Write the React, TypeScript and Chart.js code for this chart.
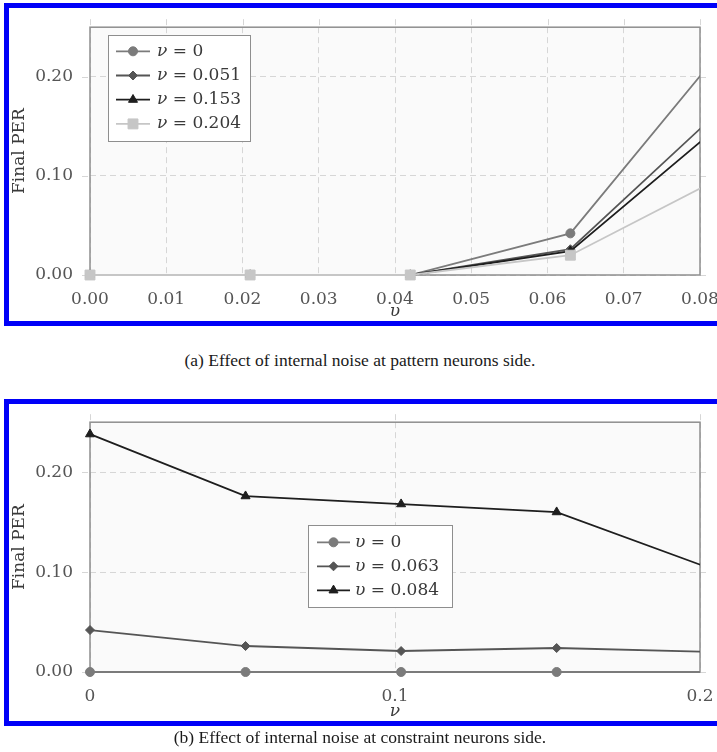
import React, { useEffect, useRef } from 'react';
import { Chart, registerables } from 'chart.js';
import { drawPoint } from 'chart.js/helpers';

Chart.register(...registerables);

// ---------- Data: chart (a) Final PER vs upsilon, one series per nu ----------
const upsilonA = [0, 0.021, 0.042, 0.063, 0.084];
const perNu0 = [0, 0, 0, 0.042, 0.238];
const perNu0051 = [0, 0, 0, 0.026, 0.176];
const perNu0153 = [0, 0, 0, 0.024, 0.16];
const perNu0204 = [0, 0, 0, 0.02, 0.103];
const labelsA = ['ν = 0', 'ν = 0.051', 'ν = 0.153', 'ν = 0.204'];

// ---------- Data: chart (b) Final PER vs nu, one series per upsilon ----------
const nuB = [0, 0.051, 0.102, 0.153, 0.204];
const perU0 = [0, 0, 0, 0, 0];
const perU0063 = [0.042, 0.026, 0.021, 0.024, 0.02];
const perU0084 = [0.238, 0.176, 0.168, 0.16, 0.103];
const labelsB = ['υ = 0', 'υ = 0.063', 'υ = 0.084'];

const yTickStep = 0.1;
const yMax = 0.25;

const SERIF = '"DejaVu Serif", serif';
const TICK_COLOR = '#555555';
const GRID_COLOR = '#d6d6d6';
const FRAME_COLOR = '#8e8e8e';

const pgfPlugin: any = {
  id: 'pgf',
  beforeDraw(chart: any) {
    const { ctx, chartArea: a } = chart;
    ctx.save();
    ctx.fillStyle = '#fafafa';
    ctx.fillRect(a.left, a.top, a.right - a.left, a.bottom - a.top);
    ctx.restore();
  },
  beforeDatasetsDraw(chart: any) {
    const { ctx, chartArea: a, scales } = chart;
    ctx.save();
    ctx.strokeStyle = GRID_COLOR;
    ctx.lineWidth = 1;
    ctx.setLineDash([6, 4]);
    const xs = scales.x;
    xs.ticks.forEach((t: any) => {
      const px = Math.round(xs.getPixelForValue(t.value)) + 0.5;
      ctx.beginPath();
      ctx.moveTo(px, a.top - 8);
      ctx.lineTo(px, a.top);
      ctx.stroke();
    });
    const ys = scales.y;
    ys.ticks.forEach((t: any) => {
      const py = Math.round(ys.getPixelForValue(t.value)) + 0.5;
      ctx.beginPath();
      ctx.moveTo(a.left - 8, py);
      ctx.lineTo(a.left, py);
      ctx.moveTo(a.right, py);
      ctx.lineTo(a.right + 9, py);
      ctx.stroke();
    });
    ctx.setLineDash([]);
    ctx.strokeStyle = FRAME_COLOR;
    ctx.lineWidth = 1.5;
    ctx.strokeRect(a.left, a.top, a.right - a.left, a.bottom - a.top);
    ctx.restore();
  },
  afterDraw(chart: any, _args: any, opts: any) {
    const L = opts && opts.legend;
    if (!L) return;
    const { ctx, chartArea: a } = chart;
    const x0 = Math.round(a.left + L.x);
    const y0 = Math.round(a.top + L.y);
    ctx.save();
    ctx.fillStyle = '#ffffff';
    ctx.fillRect(x0, y0, L.w, L.h);
    ctx.strokeStyle = FRAME_COLOR;
    ctx.lineWidth = 1;
    ctx.strokeRect(x0 + 0.5, y0 + 0.5, L.w, L.h);
    chart.data.datasets.forEach((ds: any, i: number) => {
      const cy = y0 + L.first + i * L.gap;
      ctx.strokeStyle = ds.borderColor;
      ctx.lineWidth = ds.borderWidth;
      ctx.beginPath();
      ctx.moveTo(x0 + L.l0, cy);
      ctx.lineTo(x0 + L.l1, cy);
      ctx.stroke();
      ctx.fillStyle = ds.pointBackgroundColor;
      ctx.strokeStyle = ds.pointBorderColor;
      ctx.lineWidth = 1;
      drawPoint(
        ctx,
        { pointStyle: ds.pointStyle, radius: ds.pointRadius, rotation: 0, borderWidth: 1 } as any,
        x0 + (L.l0 + L.l1) / 2,
        cy
      );
      const label: string = ds.label;
      const sym = label.slice(0, 1);
      const rest = label.slice(1);
      ctx.fillStyle = '#3a3a3a';
      ctx.textBaseline = 'middle';
      ctx.textAlign = 'left';
      ctx.font = `italic 17px ${SERIF}`;
      ctx.fillText(sym, x0 + L.tx, cy);
      const w = ctx.measureText(sym).width;
      ctx.font = `17px ${SERIF}`;
      ctx.fillText(rest, x0 + L.tx + w, cy);
    });
    ctx.restore();
  },
};

function series(
  label: string,
  xs: number[],
  ys: number[],
  color: string,
  pointStyle: string,
  radius: number,
  order: number
) {
  return {
    label,
    data: xs.map((x, i) => ({ x, y: ys[i] })),
    borderColor: color,
    backgroundColor: color,
    pointBackgroundColor: color,
    pointBorderColor: color,
    pointBorderWidth: 1,
    pointStyle,
    pointRadius: radius,
    borderWidth: 1.8,
    tension: 0,
    order,
    clip: { left: 12, top: 12, right: 0, bottom: 12 },
  };
}

function baseOptions(
  xMax: number,
  xStep: number,
  xFmt: (v: number) => string,
  xTitle: string,
  padTop: number,
  xHeight: number,
  legend: any
) {
  return {
    responsive: false,
    animation: false,
    devicePixelRatio: 1,
    layout: { padding: { left: 0, top: padTop, right: 40, bottom: 0 } },
    plugins: {
      legend: { display: false },
      tooltip: { enabled: false },
      pgf: { legend },
    },
    scales: {
      x: {
        type: 'linear',
        min: 0,
        max: xMax,
        ticks: {
          stepSize: xStep,
          includeBounds: false,
          autoSkip: false,
          maxRotation: 0,
          padding: 14,
          color: TICK_COLOR,
          font: { family: SERIF, size: 17 },
          callback: (v: any) => xFmt(Number(v)),
        },
        grid: { color: GRID_COLOR, lineWidth: 1, drawTicks: false },
        border: { display: false, dash: [6, 4] },
        title: {
          display: true,
          text: xTitle,
          color: '#3a3a3a',
          font: { family: SERIF, size: 17, style: 'italic' },
          padding: { top: 0, bottom: 8 },
        },
        afterFit: (s: any) => {
          s.height = xHeight;
        },
      },
      y: {
        type: 'linear',
        min: 0,
        max: yMax,
        ticks: {
          stepSize: yTickStep,
          includeBounds: false,
          padding: 17,
          color: TICK_COLOR,
          font: { family: SERIF, size: 17 },
          callback: (v: any) => Number(v).toFixed(2),
        },
        grid: { color: GRID_COLOR, lineWidth: 1, drawTicks: false },
        border: { display: false, dash: [6, 4] },
        title: {
          display: true,
          text: 'Final PER',
          color: '#3a3a3a',
          font: { family: SERIF, size: 17 },
          padding: { top: 9, bottom: 0 },
        },
        afterFit: (s: any) => {
          s.width = 90;
        },
      },
    },
  };
}

function configA(): any {
  return {
    type: 'line',
    data: {
      datasets: [
        series(labelsA[0], upsilonA, perNu0, '#7b7b7b', 'circle', 4.5, 3),
        series(labelsA[1], upsilonA, perNu0051, '#555555', 'rectRot', 4.5, 2),
        series(labelsA[2], upsilonA, perNu0153, '#1e1e1e', 'triangle', 5.2, 1),
        series(labelsA[3], upsilonA, perNu0204, '#c6c6c6', 'rect', 7, 0),
      ],
    },
    options: baseOptions(0.08, 0.01, (v) => v.toFixed(2), 'υ', 19, 55, {
      x: 18,
      y: 8,
      w: 142,
      h: 106,
      first: 16.3,
      gap: 24.2,
      l0: 8,
      l1: 42,
      tx: 49,
    }),
    plugins: [pgfPlugin],
  };
}

function configB(): any {
  return {
    type: 'line',
    data: {
      datasets: [
        series(labelsB[0], nuB, perU0, '#7b7b7b', 'circle', 4.5, 2),
        series(labelsB[1], nuB, perU0063, '#555555', 'rectRot', 4.5, 1),
        series(labelsB[2], nuB, perU0084, '#1e1e1e', 'triangle', 5.2, 0),
      ],
    },
    options: baseOptions(0.2, 0.1, (v) => (v === 0 ? '0' : v.toFixed(1)), 'ν', 20, 58, {
      x: 218,
      y: 103,
      w: 144,
      h: 82,
      first: 17.3,
      gap: 24,
      l0: 9,
      l1: 42,
      tx: 47,
    }),
    plugins: [pgfPlugin],
  };
}

function ChartCanvas({ make, top, width, height }: { make: () => any; top: number; width: number; height: number }) {
  const ref = useRef<HTMLCanvasElement>(null);
  useEffect(() => {
    const chart = new Chart(ref.current as HTMLCanvasElement, make());
    return () => chart.destroy();
  }, []);
  return (
    <canvas
      ref={ref}
      width={width}
      height={height}
      style={{ position: 'absolute', left: 0, top, width, height, display: 'block' }}
    />
  );
}

const captionStyle: React.CSSProperties = {
  position: 'absolute',
  left: 0,
  width: 720,
  textAlign: 'center',
  fontFamily: '"Liberation Serif", "Times New Roman", serif',
  fontSize: 17.5,
  color: '#1a1a1a',
  whiteSpace: 'nowrap',
};

export default function App() {
  return (
    <div
      style={{
        position: 'absolute',
        left: 0,
        top: 0,
        width: 717,
        height: 752,
        overflow: 'hidden',
        background: '#ffffff',
      }}
    >
      <div
        style={{
          position: 'absolute',
          left: 4,
          top: 3,
          width: 740,
          height: 323,
          boxSizing: 'border-box',
          border: '5px solid #0000f8',
        }}
      />
      <ChartCanvas make={configA} top={0} width={740} height={330} />
      <div style={{ ...captionStyle, top: 350 }}>(a) Effect of internal noise at pattern neurons side.</div>

      <div
        style={{
          position: 'absolute',
          left: 4,
          top: 399,
          width: 740,
          height: 327,
          boxSizing: 'border-box',
          border: '5px solid #0000f8',
        }}
      />
      <ChartCanvas make={configB} top={395} width={740} height={335} />
      <div style={{ ...captionStyle, top: 727 }}>(b) Effect of internal noise at constraint neurons side.</div>
    </div>
  );
}
